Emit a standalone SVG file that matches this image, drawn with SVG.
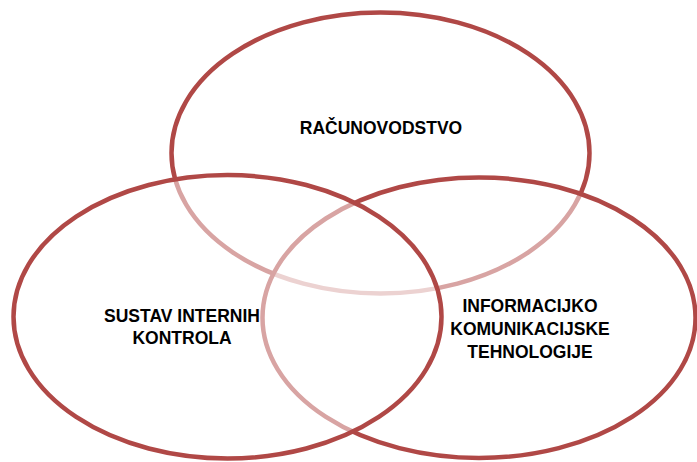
<svg xmlns="http://www.w3.org/2000/svg" width="697" height="462" viewBox="0 0 697 462">
<style>
.c{fill:#ffffff;fill-opacity:0.5;stroke:#B04846;stroke-width:4.5}
.t{font-family:"Liberation Sans",Arial,sans-serif;font-weight:bold;font-size:17.5px;fill:#000;text-anchor:middle}
</style>
<rect width="697" height="462" fill="#ffffff"/>
<g id="racunovodstvo">
<ellipse class="c" cx="380.5" cy="153" rx="209" ry="140.5"/>
</g>
<g id="ikt">
<ellipse class="c" cx="479" cy="317.7" rx="216.5" ry="140.3"/>
</g>
<g id="sik">
<ellipse class="c" cx="227.5" cy="316.8" rx="214" ry="141.7"/>
</g>
<g id="labels">
<text class="t" x="381" y="133.5">RAČUNOVODSTVO</text>
<text class="t" x="182" y="321.5">SUSTAV INTERNIH</text>
<text class="t" x="182" y="343.5">KONTROLA</text>
<text class="t" x="530" y="311.5">INFORMACIJKO</text>
<text class="t" x="530" y="335">KOMUNIKACIJSKE</text>
<text class="t" x="530" y="358.3">TEHNOLOGIJE</text>
</g>
</svg>
